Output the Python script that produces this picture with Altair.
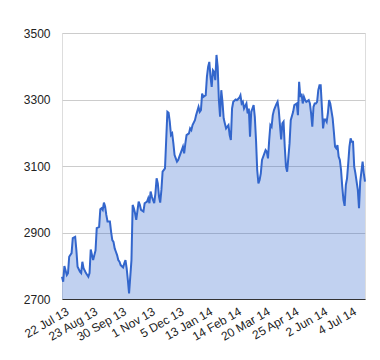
import altair as alt
import pandas as pd

# trading-day index (x) and closing value (y)
days = [0, 1, 2, 4, 5, 6, 8, 9, 11, 12, 13, 15, 16, 17, 18, 20, 22, 23, 24, 26,
        27, 28, 29, 31, 32, 33, 34, 35, 36, 37, 38, 40, 41, 42, 43, 44, 45, 46, 47, 48,
        49, 51, 52, 53, 54, 55, 56, 58, 59, 60, 61, 62, 64, 65, 66, 68, 69, 71, 72, 73,
        74, 75, 77, 78, 79, 80, 81, 82, 83, 84, 86, 87, 88, 89, 90, 91, 92, 93, 94, 96,
        97, 98, 100, 101, 102, 103, 104, 106, 107, 108, 109, 111, 112, 114, 115, 116, 117, 118, 120, 121,
        122, 123, 124, 125, 126, 127, 128, 129, 130, 131, 132, 133, 134, 135, 136, 137, 139, 140, 141, 142,
        143, 145, 146, 148, 149, 150, 151, 152, 154, 155, 156, 157, 158, 159, 160, 161, 162, 163, 164, 165,
        166, 167, 169, 170, 171, 172, 173, 174, 175, 176, 177, 179, 180, 181, 182, 183, 184, 185, 186, 187,
        188, 190, 191, 193, 194, 196, 197, 198, 199, 200, 201, 202, 203, 204, 206, 207, 208, 209, 210, 211,
        212, 213, 214, 215, 216, 217, 218, 219, 220, 221, 222, 223, 224, 226, 227, 228, 229, 230, 231, 232,
        233, 234, 235, 236, 237, 238, 239, 240, 241, 242, 243, 244, 245, 247, 248, 249, 250, 251, 252, 253]

prices = [2767, 2752, 2799, 2772, 2778, 2827, 2838, 2883, 2887, 2847, 2797, 2782, 2778, 2812, 2793, 2778, 2767, 2778, 2849, 2817,
          2832, 2846, 2913, 2917, 2970, 2973, 2968, 2990, 2978, 2953, 2933, 2933, 2902, 2877, 2872, 2852, 2842, 2832, 2817, 2812,
          2802, 2795, 2807, 2817, 2792, 2757, 2717, 2817, 2983, 2973, 2958, 2938, 2993, 2983, 2968, 2963, 2988, 2993, 3003, 2988,
          3023, 3008, 2988, 3018, 3063, 3048, 3008, 2990, 3028, 3083, 3093, 3178, 3263, 3260, 3233, 3193, 3198, 3168, 3133, 3113,
          3118, 3128, 3148, 3158, 3138, 3168, 3193, 3198, 3213, 3208, 3223, 3238, 3253, 3278, 3263, 3268, 3318, 3308, 3313, 3368,
          3398, 3413, 3368, 3338, 3388, 3383, 3358, 3434, 3398, 3298, 3248, 3328, 3293, 3243, 3228, 3213, 3223, 3193, 3178, 3273,
          3293, 3300, 3298, 3305, 3313, 3288, 3293, 3273, 3288, 3258, 3273, 3188, 3263, 3273, 3283, 3248, 3178, 3088, 3048, 3058,
          3078, 3118, 3138, 3148, 3143, 3123, 3178, 3223, 3218, 3253, 3268, 3286, 3293, 3268, 3223, 3180, 3228, 3233, 3158, 3098,
          3083, 3168, 3238, 3263, 3283, 3288, 3253, 3353, 3308, 3318, 3288, 3308, 3298, 3293, 3298, 3288, 3258, 3218, 3278, 3288,
          3288, 3293, 3328, 3343, 3343, 3278, 3213, 3240, 3240, 3233, 3258, 3298, 3288, 3243, 3203, 3158, 3153, 3163, 3128, 3118,
          3088, 3038, 2998, 2980, 3043, 3063, 3108, 3158, 3183, 3173, 3173, 3098, 3078, 3028, 2973, 3053, 3083, 3113, 3078, 3053]

tick_days = [2, 26, 50, 74, 98, 122, 146, 170, 194, 218, 242]
tick_labels = ["22 Jul 13", "23 Aug 13", "30 Sep 13", "1 Nov 13", "5 Dec 13", "13 Jan 14",
               "14 Feb 14", "20 Mar 14", "25 Apr 14", "2 Jun 14", "4 Jul 14"]
y_ticks = [2700, 2900, 3100, 3300, 3500]

assert len(days) == len(prices)
df = pd.DataFrame({"day": days, "price": prices})

label_expr = ("[" + ",".join("'%s'" % t for t in tick_labels) + "][indexof(["
              + ",".join(str(d) for d in tick_days) + "], datum.value)]")

FONT = "Liberation Sans, Arial"

x_enc = alt.X("day:Q",
              scale=alt.Scale(domain=[0, 253], nice=False, zero=False),
              axis=alt.Axis(values=tick_days, labelExpr=label_expr, labelAngle=-30,
                            labelAlign="right", labelBaseline="middle",
                            grid=False, ticks=False, domain=True, domainColor="#333333",
                            domainWidth=1, title=None, labelFontSize=12, labelColor="#222222",
                            labelFont=FONT, labelPadding=11, labelOffset=3, zindex=1,
                            labelOverlap=False, labelBound=False, labelFlush=False))
y_enc = alt.Y("price:Q",
              scale=alt.Scale(domain=[2700, 3500], nice=False, zero=False),
              axis=alt.Axis(values=y_ticks, format="d", grid=True, gridColor="#cccccc", ticks=False,
                            domain=False, title=None, labelFontSize=12, labelColor="#222222",
                            labelFont=FONT, labelPadding=12))

base = alt.Chart(df)
area = base.mark_area(color="#3366cc", opacity=0.3).encode(x=x_enc, y=y_enc, y2=alt.datum(2700))
line = base.mark_line(color="#3366cc", strokeWidth=2).encode(x=x_enc, y=y_enc)

chart = (area + line).properties(
    width=303, height=266,
    autosize=alt.AutoSizeParams(type="none"),
    padding={"left": 54, "top": 25, "right": 7, "bottom": 53},
).configure_view(strokeWidth=0, stroke="transparent").configure(background="white")

chart.save("out.html", embed_options={"renderer": "svg", "actions": False})
